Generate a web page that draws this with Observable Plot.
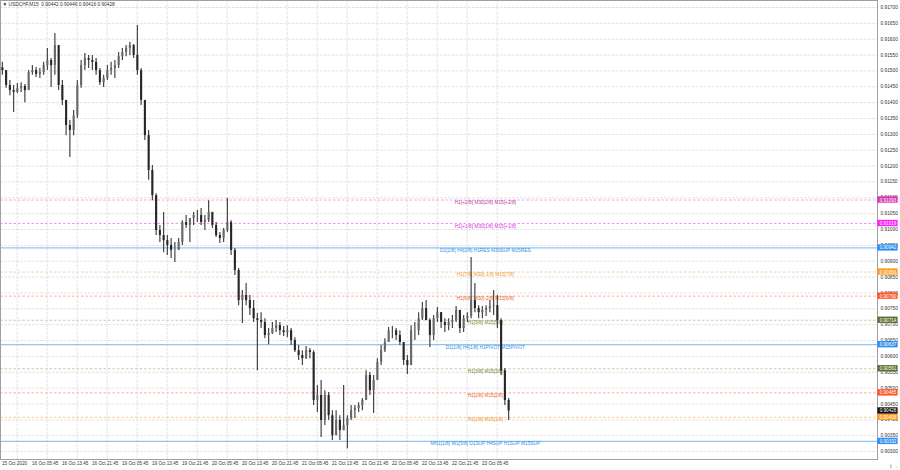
<!DOCTYPE html>
<html><head><meta charset="utf-8">
<script src="https://cdn.jsdelivr.net/npm/d3@7"></script>
<script src="https://cdn.jsdelivr.net/npm/@observablehq/plot@0.6"></script>
<style>
html,body{margin:0;padding:0;background:#fff}
#chart svg{display:block}
</style>
</head><body><div id="chart"></div>
<script>
// ---- data (USDCHF M15, aggregated per hour) ----
const title = "\u25BC USDCHF,M15  0.90442 0.90446 0.90416 0.90428";
const firstOpen = 0.91510;
const highs = [0.91527,0.91501,0.91470,0.91454,0.91460,0.91463,0.91457,0.91501,0.91517,0.91511,
0.91508,0.91527,0.91571,0.91539,0.91618,0.91580,0.91470,0.91407,0.91344,0.91375,
0.91470,0.91533,0.91555,0.91549,0.91549,0.91539,0.91508,0.91486,0.91517,0.91527,
0.91533,0.91558,0.91571,0.91580,0.91590,0.91583,0.91643,0.91508,0.91407,0.91312,
0.91202,0.91113,0.91013,0.91054,0.90981,0.90972,0.90959,0.90972,0.91028,0.91044,
0.91035,0.91054,0.91060,0.91066,0.91044,0.91091,0.91054,0.91022,0.90991,0.91003,
0.91098,0.91028,0.90940,0.90877,0.90808,0.90830,0.90792,0.90776,0.90735,0.90738,
0.90719,0.90688,0.90707,0.90713,0.90707,0.90694,0.90697,0.90688,0.90659,0.90634,
0.90618,0.90631,0.90625,0.90618,0.90508,0.90524,0.90492,0.90486,0.90429,0.90429,
0.90413,0.90508,0.90413,0.90445,0.90445,0.90454,0.90467,0.90555,0.90549,0.90540,
0.90593,0.90634,0.90656,0.90691,0.90694,0.90688,0.90681,0.90644,0.90603,0.90697,
0.90707,0.90738,0.90770,0.90776,0.90719,0.90729,0.90754,0.90738,0.90719,0.90719,
0.90729,0.90757,0.90745,0.90729,0.90738,0.90912,0.90830,0.90760,0.90757,0.90760,
0.90776,0.90808,0.90792,0.90719,0.90562,0.90467];
const lows = [0.91486,0.91445,0.91422,0.91369,0.91429,0.91432,0.91400,0.91438,0.91486,0.91479,
0.91476,0.91486,0.91501,0.91448,0.91486,0.91438,0.91391,0.91296,0.91227,0.91296,
0.91350,0.91445,0.91501,0.91508,0.91501,0.91486,0.91454,0.91448,0.91470,0.91486,
0.91476,0.91508,0.91533,0.91545,0.91549,0.91539,0.91486,0.91391,0.91281,0.91155,
0.91091,0.90981,0.90959,0.90927,0.90918,0.90909,0.90896,0.90934,0.90950,0.91003,
0.90959,0.91013,0.91022,0.91013,0.90997,0.91022,0.91003,0.90975,0.90956,0.90959,
0.90991,0.90918,0.90855,0.90760,0.90704,0.90760,0.90729,0.90707,0.90555,0.90688,
0.90656,0.90637,0.90669,0.90675,0.90666,0.90663,0.90659,0.90634,0.90612,0.90587,
0.90571,0.90590,0.90593,0.90445,0.90423,0.90344,0.90382,0.90398,0.90335,0.90350,
0.90335,0.90366,0.90309,0.90398,0.90404,0.90423,0.90429,0.90461,0.90477,0.90420,
0.90524,0.90571,0.90612,0.90644,0.90656,0.90650,0.90634,0.90571,0.90543,0.90571,
0.90650,0.90666,0.90713,0.90713,0.90628,0.90650,0.90707,0.90688,0.90675,0.90681,
0.90688,0.90707,0.90672,0.90675,0.90707,0.90719,0.90738,0.90719,0.90719,0.90726,
0.90738,0.90729,0.90688,0.90540,0.90445,0.90398];
const closes = [0.91501,0.91454,0.91438,0.91432,0.91445,0.91451,0.91438,0.91495,0.91501,0.91489,
0.91495,0.91517,0.91533,0.91517,0.91580,0.91454,0.91407,0.91328,0.91312,0.91359,
0.91454,0.91517,0.91539,0.91533,0.91527,0.91501,0.91463,0.91476,0.91501,0.91508,
0.91517,0.91545,0.91558,0.91571,0.91580,0.91549,0.91501,0.91407,0.91296,0.91186,
0.91107,0.90997,0.90981,0.90965,0.90950,0.90934,0.90934,0.90959,0.91022,0.91013,
0.91035,0.91044,0.91044,0.91022,0.91028,0.91054,0.91013,0.90981,0.90972,0.90997,
0.91022,0.90934,0.90871,0.90776,0.90792,0.90776,0.90751,0.90719,0.90713,0.90707,
0.90666,0.90672,0.90688,0.90697,0.90681,0.90675,0.90681,0.90650,0.90618,0.90603,
0.90593,0.90618,0.90612,0.90461,0.90477,0.90398,0.90477,0.90413,0.90350,0.90398,
0.90366,0.90382,0.90404,0.90429,0.90436,0.90445,0.90461,0.90540,0.90492,0.90524,
0.90581,0.90618,0.90644,0.90681,0.90681,0.90666,0.90644,0.90587,0.90571,0.90681,
0.90681,0.90719,0.90751,0.90713,0.90666,0.90719,0.90738,0.90707,0.90697,0.90707,
0.90713,0.90745,0.90688,0.90719,0.90726,0.90776,0.90751,0.90738,0.90745,0.90751,
0.90757,0.90760,0.90713,0.90555,0.90461,0.90428];

// time axis (hours from chart start) and labels
const labelHours = [0,8,16,24,32,40,48,56,64,72,80,88,96,104,112,120,128];
const timeLabels = ["15 Oct 2020","16 Oct 05:45","16 Oct 13:45","16 Oct 21:45","19 Oct 05:45","19 Oct 13:45","19 Oct 21:45","20 Oct 05:45","20 Oct 13:45","20 Oct 21:45","21 Oct 05:45","21 Oct 13:45","21 Oct 21:45","22 Oct 05:45","22 Oct 13:45","22 Oct 21:45","23 Oct 05:45"];
const priceTicks = [0.903,0.9035,0.904,0.9045,0.905,0.9055,0.906,0.9065,0.907,0.9075,0.908,0.9085,0.909,0.9095,0.910,0.9105,0.911,0.9115,0.912,0.9125,0.913,0.9135,0.914,0.9145,0.915,0.9155,0.916,0.9165,0.917];

// Murrey / level lines
const levelPrices = [0.91093,0.91019,0.90942,0.90866,0.90790,0.90714,0.90637,0.90561,0.90485,0.90408,0.90332];
const levelLabels = ["H1[+2/8] M30[2/8] M15[+2/8]","H1[+1/8] M30[1/8] M15[+1/8]","D1[2/8] H4[2/8] H1RES M30SUP M15RES","H1[7/8] M30[-1/8] M15[7/8]","H1[6/8] M30[-2/8] M15[6/8]","H1[5/8] M15[5/8]","D1[1/8] H4[1/8] H1PIVOT M15PIVOT","H1[3/8] M15[3/8]","H1[2/8] M15[2/8]","H1[1/8] M15[1/8]","MN1[1/8] W1[5/8] D1SUP H4SUP H1SUP M15SUP"];
const levelKinds = ["plus2","plus1","major","e7","e6","e5","major","e5","e6","e7","major"];
const bidPrice = 0.90428;

// ---- styles ----
const kindStyle = {
  plus2:{line:"#efa8dc", text:"#c0399e", tag:"#dc2fb6", dash:true},
  plus1:{line:"#f294f2", text:"#d835d8", tag:"#ff1dff", dash:true},
  major:{line:"#90c5f6", text:"#2f8fe6", tag:"#2f8ff0", dash:false},
  e7:{line:"#f8cd96", text:"#f29a2c", tag:"#ff9c1c", dash:true},
  e6:{line:"#f7b09a", text:"#ef5f2e", tag:"#ff5424", dash:true},
  e5:{line:"#c8cca4", text:"#6c872d", tag:"#5c7231", dash:true},
  bid:{tag:"#111111"}
};
const X_END = 877/3.75;          // hours covered by the plot area
const LABEL_X = 129.3;           // level-label centre
const TAG_X1 = X_END + 0.1, TAG_X2 = X_END + 5.5;
const TAG_H = 0.0001;

const candles = highs.map((h,i)=>({t:i+0.5, o: i ? closes[i-1] : firstOpen, h, l: lows[i], c: closes[i]}));
const levels = levelPrices.map((p,i)=>({price:p, label:levelLabels[i], kind:levelKinds[i]}));
const tags = levels.concat([{price:bidPrice, kind:"bid"}]);
const labelMap = new Map(labelHours.map((h,i)=>[h,timeLabels[i]]));
const gridHours = labelHours.map(h=>h+4.45);

const FONT = "'Liberation Sans', Arial, sans-serif";
const chart = Plot.plot({
  width:900, height:470,
  marginLeft:0, marginRight:23, marginTop:0, marginBottom:11,
  x:{domain:[0,X_END], axis:null},
  y:{domain:[0.90275,0.91722], axis:null},
  style:{fontFamily:FONT, fontSize:"4.8px", color:"#333", background:"#fff", overflow:"visible"},
  marks:[
    Plot.gridX(gridHours, {stroke:"#e4e4e4", strokeOpacity:1, strokeDasharray:"3,1"}),
    Plot.gridY(priceTicks, {stroke:"#e4e4e4", strokeOpacity:1, strokeDasharray:"3,1"}),
    Plot.ruleY(levels.filter(d=>kindStyle[d.kind].dash), {y:"price", stroke:d=>kindStyle[d.kind].line, strokeDasharray:"2.5,2", strokeWidth:1}),
    Plot.ruleY(levels.filter(d=>!kindStyle[d.kind].dash), {y:"price", stroke:d=>kindStyle[d.kind].line, strokeWidth:1.3}),
    Plot.text(levels, {x:()=>LABEL_X, y:"price", text:"label", fill:d=>kindStyle[d.kind].text, dy:2.5, fontSize:4.8}),
    Plot.ruleX(candles, {x:"t", y1:"l", y2:"h", stroke:"#444", strokeWidth:1.2}),
    Plot.ruleX(candles, {x:"t", y1:"o", y2:"c", stroke:d=>d.c>=d.o?"#686868":"#262626", strokeWidth:2.1}),
    Plot.frame({stroke:"#a0a0a0"}),
    Plot.axisY(priceTicks, {anchor:"right", tickSize:0, tickPadding:3, tickFormat:d3.format(".5f"), fontSize:4.8}),
    Plot.axisX(labelHours, {anchor:"bottom", tickSize:0, tickPadding:2.5, textAnchor:"start", tickFormat:d=>labelMap.get(d), fontSize:4.6, dx:1.5}),
    Plot.rect(tags, {x1:()=>TAG_X1, x2:()=>TAG_X2, y1:d=>d.price-TAG_H, y2:d=>d.price+TAG_H, fill:d=>kindStyle[d.kind].tag}),
    Plot.text(tags, {x:()=>(TAG_X1+TAG_X2)/2, y:"price", text:d=>d3.format(".5f")(d.price), fill:"#fff", fontSize:4.6}),
    Plot.text([title], {frameAnchor:"top-left", dx:2, dy:2, fill:"#333", fontSize:4.8, textAnchor:"start"})
  ],
  color:{type:"identity"}
});
document.getElementById("chart").appendChild(chart);
</script></body></html>
